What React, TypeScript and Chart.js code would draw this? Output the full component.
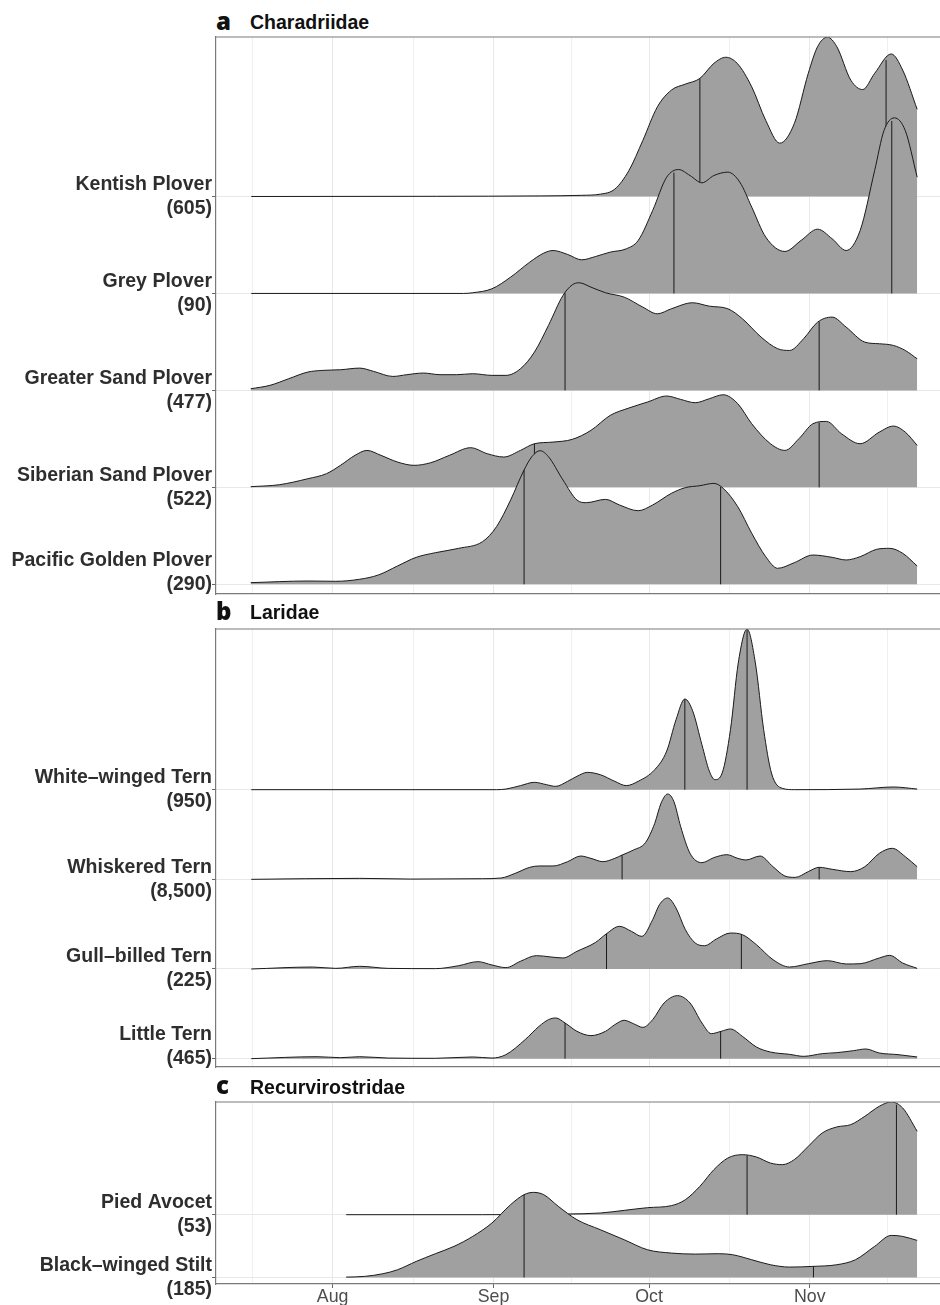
import React, { useEffect, useRef } from 'react';
import { Chart, registerables } from 'chart.js';

Chart.register(...registerables);

// ---------- axis (days since 1 Aug) ----------
const MONTH_TICKS = [0, 31, 61, 92];
const MONTH_LABELS = ['Aug', 'Sep', 'Oct', 'Nov'];
const MINOR_TICKS = [-15.5, 15.5, 46, 76.5, 107];
const X_MIN = -22.5;
const X_MAX = 117.1;

// ---------- panel a: Charadriidae ----------
const kentishPlover = [[-15.7,0],[20,0.002],[40,0.006],[48,0.012],[51.6,0.024],[54.4,0.076],[57.1,0.266],[59.8,0.578],[62.6,0.924],[65.3,1.097],[68.0,1.159],[70.8,1.218],[73.5,1.373],[75.8,1.436],[78.0,1.373],[80.8,1.131],[83.5,0.785],[86.2,0.550],[89.0,0.751],[91.7,1.270],[93.5,1.546],[95.4,1.643],[97.2,1.546],[99.9,1.200],[102.2,1.103],[104.5,1.270],[107.7,1.470],[109.9,1.304],[112.7,0.899]];
const kentishQuantiles = [70.8, 106.7];

const greyPlover = [[-15.7,0],[25.2,0],[27.0,0.007],[30.7,0.048],[34.3,0.168],[38.0,0.323],[40.7,0.416],[42.5,0.443],[45.3,0.402],[48.0,0.347],[50.7,0.381],[53.5,0.426],[56.6,0.460],[58.9,0.546],[61.7,0.856],[64.4,1.199],[66.7,1.278],[68.9,1.216],[71.2,1.141],[73.5,1.216],[76.2,1.251],[78.5,1.148],[80.8,0.890],[83.5,0.581],[87.2,0.433],[90.3,0.546],[93.5,0.663],[96.3,0.564],[99.0,0.443],[101.7,0.649],[104.5,1.268],[106.3,1.680],[108.3,1.811],[110.4,1.680],[112.7,1.199]];
const greyQuantiles = [65.8, 107.8];

const greaterSandPlover = [[-15.8,0.017],[-12.1,0.052],[-8.5,0.120],[-4.8,0.189],[-2.1,0.206],[1.5,0.213],[5.2,0.230],[7.9,0.196],[11.6,0.144],[14.3,0.162],[17.5,0.179],[20.7,0.162],[23.9,0.162],[27.0,0.172],[30.7,0.155],[33.4,0.155],[36.2,0.223],[38.9,0.395],[41.6,0.670],[44.4,0.979],[46.2,1.089],[47.5,1.110],[49.8,1.065],[52.6,1.007],[56.2,0.962],[59.8,0.859],[62.6,0.790],[65.3,0.842],[69.4,0.904],[72.6,0.869],[76.2,0.842],[79.0,0.739],[82.6,0.550],[85.8,0.430],[88.1,0.412],[90.8,0.533],[93.5,0.704],[96.3,0.756],[99.0,0.653],[102.6,0.498],[105.4,0.481],[108.1,0.464],[110.4,0.412],[112.7,0.326]];
const greaterSandQuantiles = [44.8, 93.8];

const siberianSandPlover = [[-15.8,0.007],[-10.3,0.027],[-4.8,0.089],[-1.2,0.141],[1.5,0.227],[4.3,0.330],[6.6,0.381],[9.3,0.330],[12.5,0.261],[15.7,0.227],[18.9,0.254],[22.5,0.330],[26.6,0.409],[29.8,0.347],[33.0,0.313],[36.2,0.381],[38.9,0.450],[42.5,0.467],[46.2,0.495],[49.8,0.588],[53.5,0.742],[57.1,0.818],[60.7,0.880],[64.4,0.942],[67.1,0.907],[69.9,0.873],[72.6,0.914],[75.3,0.955],[78.1,0.863],[80.8,0.656],[84.4,0.450],[87.2,0.381],[89.9,0.502],[92.6,0.656],[95.2,0.680],[98.1,0.553],[101.7,0.450],[105.4,0.570],[108.1,0.632],[110.4,0.570],[112.7,0.433]];
const siberianSandQuantiles = [38.9, 93.8];

const pacificGoldenPlover = [[-15.8,0.017],[-4.8,0.034],[0.6,0.031],[5.2,0.052],[8.8,0.096],[12.5,0.189],[16.1,0.278],[19.8,0.326],[24.3,0.371],[28.9,0.440],[31.6,0.595],[34.3,0.869],[36.9,1.179],[38.4,1.316],[40.0,1.378],[41.6,1.316],[44.4,1.076],[47.1,0.869],[48.9,0.842],[52.6,0.876],[55.3,0.818],[58.9,0.759],[61.7,0.818],[65.3,0.938],[68.0,0.997],[70.8,1.017],[73.5,1.041],[75.3,0.990],[78.1,0.801],[80.8,0.526],[83.5,0.285],[85.8,0.165],[89.0,0.223],[92.6,0.302],[96.3,0.278],[99.0,0.251],[101.7,0.285],[104.9,0.361],[107.4,0.371],[109.9,0.320],[112.7,0.189]];
const pacificGoldenQuantiles = [36.9, 74.8];

const PANEL_A_NAMES = ['Kentish Plover', 'Grey Plover', 'Greater Sand Plover', 'Siberian Sand Plover', 'Pacific Golden Plover'];
const PANEL_A_COUNTS = ['(605)', '(90)', '(477)', '(522)', '(290)'];
const PANEL_A_DENSITY = [kentishPlover, greyPlover, greaterSandPlover, siberianSandPlover, pacificGoldenPlover];
const PANEL_A_QUANTILES = [kentishQuantiles, greyQuantiles, greaterSandQuantiles, siberianSandQuantiles, pacificGoldenQuantiles];

// ---------- panel b: Laridae ----------
const whiteWingedTern = [[-15.7,0],[31.6,0],[33.4,0.007],[36.2,0.045],[38.9,0.082],[41.2,0.056],[43.0,0.037],[45.3,0.093],[47.1,0.149],[49.1,0.193],[51.6,0.167],[54.4,0.093],[56.6,0.045],[58.9,0.093],[62.1,0.223],[64.4,0.430],[66.2,0.780],[67.9,1.011],[69.4,0.880],[71.2,0.500],[72.6,0.210],[73.7,0.112],[75.1,0.186],[76.7,0.669],[78.2,1.413],[79.9,1.792],[81.5,1.413],[83.1,0.669],[84.6,0.186],[86.7,0.015],[89.0,0],[101.7,0.007],[108.1,0.030],[112.7,0.007]];
const whiteWingedQuantiles = [67.9, 79.9];

const whiskeredTern = [[-15.7,0],[5.2,0.011],[15,0.003],[28.9,0.007],[32.5,0.015],[35.2,0.067],[38.0,0.134],[39.8,0.149],[42.5,0.149],[45.3,0.197],[47.8,0.260],[49.8,0.234],[52.1,0.197],[54.4,0.234],[55.8,0.271],[58.0,0.327],[60.3,0.409],[62.1,0.625],[63.3,0.848],[64.6,0.952],[65.8,0.866],[67.1,0.587],[68.9,0.290],[71.2,0.186],[73.5,0.242],[76.0,0.275],[78.1,0.234],[79.7,0.216],[82.4,0.260],[84.9,0.141],[87.2,0.037],[89.2,0.022],[91.7,0.086],[93.8,0.134],[96.3,0.112],[99.9,0.086],[102.6,0.141],[105.4,0.290],[107.9,0.346],[110.4,0.253],[112.7,0.141]];
const whiskeredQuantiles = [55.8, 93.8];

const gullBilledTern = [[-15.7,0],[-3.9,0.022],[0.6,0.007],[5.2,0.030],[10.7,0.007],[19.8,0.004],[24.3,0.037],[28.0,0.082],[30.7,0.045],[33.4,0.015],[36.2,0.086],[39.3,0.149],[42.1,0.134],[44.4,0.123],[47.1,0.197],[50.7,0.297],[52.8,0.394],[55.3,0.476],[57.6,0.420],[59.6,0.364],[61.7,0.550],[63.0,0.717],[64.6,0.792],[66.2,0.680],[68.0,0.439],[69.9,0.290],[71.7,0.260],[74.0,0.335],[76.7,0.401],[79.0,0.383],[81.7,0.271],[84.9,0.104],[88.1,0.022],[91.7,0.059],[95.4,0.093],[99.0,0.056],[101.7,0.059],[105.4,0.123],[107.4,0.152],[109.9,0.067],[112.7,0.007]];
const gullBilledQuantiles = [52.8, 78.8];

const littleTern = [[-15.7,0],[-3.0,0.022],[1.5,0.011],[5.2,0.022],[10.7,0.007],[19.8,0.004],[27.0,0.019],[30.7,0.007],[33.4,0.045],[37.1,0.212],[39.8,0.361],[41.6,0.435],[43.0,0.454],[44.8,0.398],[47.1,0.305],[49.8,0.257],[52.6,0.305],[54.4,0.379],[56.2,0.428],[58.0,0.390],[59.8,0.349],[61.7,0.435],[63.9,0.621],[66.5,0.703],[68.9,0.621],[71.2,0.398],[73.0,0.279],[74.9,0.305],[76.7,0.331],[79.0,0.249],[81.7,0.130],[84.4,0.074],[88.1,0.048],[90.8,0.026],[94.4,0.056],[97.2,0.067],[100.4,0.089],[102.8,0.108],[105.4,0.063],[109.0,0.045],[112.7,0.019]];
const littleQuantiles = [44.8, 74.8];

const PANEL_B_NAMES = ['White\u2013winged Tern', 'Whiskered Tern', 'Gull\u2013billed Tern', 'Little Tern'];
const PANEL_B_COUNTS = ['(950)', '(8,500)', '(225)', '(465)'];
const PANEL_B_DENSITY = [whiteWingedTern, whiskeredTern, gullBilledTern, littleTern];
const PANEL_B_QUANTILES = [whiteWingedQuantiles, whiskeredQuantiles, gullBilledQuantiles, littleQuantiles];

// ---------- panel c: Recurvirostridae ----------
const piedAvocet = [[2.6,0],[28.9,0],[45.3,0.011],[51.6,0.027],[56.2,0.069],[60.7,0.112],[65.3,0.144],[68.0,0.239],[70.8,0.452],[73.5,0.718],[76.2,0.904],[79.0,0.957],[81.7,0.920],[84.4,0.824],[86.7,0.798],[89.0,0.878],[91.7,1.090],[94.4,1.303],[97.2,1.399],[99.9,1.436],[102.6,1.569],[105.4,1.729],[107.7,1.798],[109.9,1.702],[112.7,1.330]];
const piedAvocetQuantiles = [79.9, 108.7];

const blackWingedStilt = [[2.6,0.005],[6.1,0.016],[9.7,0.059],[12.5,0.122],[16.1,0.255],[19.8,0.378],[23.4,0.495],[27.0,0.654],[30.7,0.867],[34.3,1.160],[36.9,1.319],[38.7,1.356],[40.7,1.319],[43.5,1.133],[47.1,0.920],[51.6,0.761],[56.2,0.601],[60.7,0.441],[65.3,0.388],[69.9,0.372],[74.4,0.378],[77.1,0.362],[80.8,0.282],[84.4,0.202],[88.1,0.165],[92.6,0.176],[97.2,0.202],[100.8,0.282],[104.5,0.495],[107.7,0.670],[109.9,0.654],[112.7,0.590]];
const blackWingedStiltQuantiles = [36.9, 92.7];

const PANEL_C_NAMES = ['Pied Avocet', 'Black\u2013winged Stilt'];
const PANEL_C_COUNTS = ['(53)', '(185)'];
const PANEL_C_DENSITY = [piedAvocet, blackWingedStilt];
const PANEL_C_QUANTILES = [piedAvocetQuantiles, blackWingedStiltQuantiles];

// ---------- styles ----------
const FILL = '#a0a0a0';
const LINE = '#1a1a1a';
const GRID_MAJOR = '#e8e8e8';
const GRID_MINOR = '#f0f0f0';
const BORDER = '#7a7a7a';
const SANS = "'Liberation Sans', Arial, Helvetica, sans-serif";

function interpAt(d: number[][], q: number): number {
  for (let i = 0; i < d.length - 1; i++) {
    const [x0, y0] = d[i];
    const [x1, y1] = d[i + 1];
    if (q >= x0 && q <= x1) return y0 + ((y1 - y0) * (q - x0)) / (x1 - x0);
  }
  return 0;
}

const topBorder = {
  id: 'topBorder',
  afterDraw(chart: any) {
    const { ctx, chartArea } = chart;
    ctx.save();
    ctx.strokeStyle = BORDER;
    ctx.lineWidth = 1.2;
    ctx.beginPath();
    ctx.moveTo(chartArea.left, chartArea.top);
    ctx.lineTo(chartArea.right, chartArea.top);
    ctx.stroke();
    ctx.restore();
  },
};

type PanelProps = {
  names: string[];
  counts: string[];
  densities: number[][][];
  quantiles: number[][];
  yMin: number;
  yMax: number;
  top: number;
  height: number;
  padBottom: number;
  xAxisHeight: number;
  showX: boolean;
  liftBottomLabel: boolean;
};

function RidgePanel(p: PanelProps) {
  const ref = useRef<HTMLCanvasElement>(null);
  useEffect(() => {
    const n = p.names.length;
    const datasets: any[] = [];
    p.densities.forEach((dens, i) => {
      const base = n - 1 - i;
      const order = (n - i) * 10;
      datasets.push({
        type: 'line',
        data: dens.map(([x, h]) => ({ x, y: base + h })),
        fill: { value: base },
        backgroundColor: FILL,
        borderColor: LINE,
        borderWidth: 1,
        pointRadius: 0,
        cubicInterpolationMode: 'monotone',
        order,
      });
      p.quantiles[i].forEach((q) => {
        datasets.push({
          type: 'line',
          data: [
            { x: q, y: base },
            { x: q, y: base + interpAt(dens, q) },
          ],
          borderColor: LINE,
          borderWidth: 1,
          pointRadius: 0,
          fill: false,
          order: order - 1,
        });
      });
    });

    const chart = new Chart(ref.current as HTMLCanvasElement, {
      type: 'line',
      data: { datasets },
      plugins: [topBorder],
      options: {
        animation: false,
        responsive: false,
        devicePixelRatio: 1,
        layout: { padding: { top: 3, bottom: p.padBottom, left: 0, right: 0 } },
        plugins: { legend: { display: false }, tooltip: { enabled: false } },
        scales: {
          x: {
            type: 'linear',
            min: X_MIN,
            max: X_MAX,
            afterBuildTicks: (s: any) => {
              s.ticks = [...MINOR_TICKS, ...MONTH_TICKS].sort((a, b) => a - b).map((v) => ({ value: v }));
            },
            afterFit: (s: any) => {
              s.height = p.xAxisHeight;
              s.paddingLeft = 0;
              s.paddingRight = 0;
            },
            ticks: {
              display: p.showX,
              autoSkip: false,
              maxRotation: 0,
              padding: 0,
              color: '#4d4d4d',
              font: { family: SANS, size: 17.8, lineHeight: 1 },
              callback: (v: any) => {
                const i = MONTH_TICKS.indexOf(Number(v));
                return i >= 0 ? MONTH_LABELS[i] : '';
              },
            },
            grid: {
              color: (c: any) => (MONTH_TICKS.includes(c.tick?.value) ? GRID_MAJOR : GRID_MINOR),
              lineWidth: 1,
              drawTicks: p.showX,
              tickLength: 4,
              tickColor: (c: any) => (MONTH_TICKS.includes(c.tick?.value) ? '#666' : 'rgba(0,0,0,0)'),
            },
            border: { display: true, color: BORDER, width: 1.2 },
          },
          y: {
            type: 'linear',
            min: p.yMin,
            max: p.yMax,
            afterBuildTicks: (s: any) => {
              s.ticks = p.names.map((_, i) => ({ value: i }));
            },
            afterFit: (s: any) => {
              s.width = 216;
              s.paddingTop = 0;
              s.paddingBottom = 0;
            },
            ticks: {
              autoSkip: false,
              padding: 0,
              color: '#2e2e2e',
              font: { family: SANS, size: 19.5, weight: 'bold', lineHeight: 1.23 },
              callback: (v: any) => {
                const idx = n - 1 - Number(v);
                const lines = [p.names[idx], p.counts[idx]];
                if (p.liftBottomLabel && Number(v) === 0) lines.push('');
                return lines;
              },
            },
            grid: { color: GRID_MAJOR, lineWidth: 1, drawTicks: true, tickLength: 4, tickColor: '#666' },
            border: { display: true, color: BORDER, width: 1.2 },
          },
        },
      } as any,
    });
    return () => chart.destroy();
  }, []);
  return (
    <canvas
      ref={ref}
      width={940}
      height={p.height}
      style={{ position: 'absolute', left: 0, top: p.top, width: 940, height: p.height, display: 'block' }}
    />
  );
}

function PanelTitle({ letter, text, baseline }: { letter: string; text: string; baseline: number }) {
  return (
    <>
      <div
        style={{
          position: 'absolute',
          left: 216,
          top: baseline - 24,
          fontFamily: "'Open Sans', Lato, sans-serif",
          fontWeight: 800,
          fontSize: 24,
          lineHeight: '30px',
          height: 30,
          color: '#111',
        }}
      >
        {letter}
      </div>
      <div
        style={{
          position: 'absolute',
          left: 250,
          top: baseline - 16.5,
          fontFamily: SANS,
          fontWeight: 700,
          fontSize: 19.5,
          lineHeight: 1,
          color: '#111',
          whiteSpace: 'nowrap',
        }}
      >
        {text}
      </div>
    </>
  );
}

export default function App() {
  return (
    <div style={{ position: 'absolute', left: 0, top: 0, width: 940, height: 1305, overflow: 'hidden', background: '#fff' }}>
      <PanelTitle letter="a" text="Charadriidae" baseline={29.5} />
      <RidgePanel
        names={PANEL_A_NAMES}
        counts={PANEL_A_COUNTS}
        densities={PANEL_A_DENSITY}
        quantiles={PANEL_A_QUANTILES}
        yMin={-0.1}
        yMax={5.645}
        top={34}
        height={564}
        padBottom={4}
        xAxisHeight={0}
        showX={false}
        liftBottomLabel={true}
      />
      <PanelTitle letter="b" text="Laridae" baseline={619.5} />
      <RidgePanel
        names={PANEL_B_NAMES}
        counts={PANEL_B_COUNTS}
        densities={PANEL_B_DENSITY}
        quantiles={PANEL_B_QUANTILES}
        yMin={-0.093}
        yMax={4.792}
        top={626}
        height={445}
        padBottom={4}
        xAxisHeight={0}
        showX={false}
        liftBottomLabel={true}
      />
      <PanelTitle letter="c" text="Recurvirostridae" baseline={1094} />
      <RidgePanel
        names={PANEL_C_NAMES}
        counts={PANEL_C_COUNTS}
        densities={PANEL_C_DENSITY}
        quantiles={PANEL_C_QUANTILES}
        yMin={-0.105}
        yMax={2.797}
        top={1099}
        height={206}
        padBottom={0}
        xAxisHeight={21}
        showX={true}
        liftBottomLabel={false}
      />
    </div>
  );
}
